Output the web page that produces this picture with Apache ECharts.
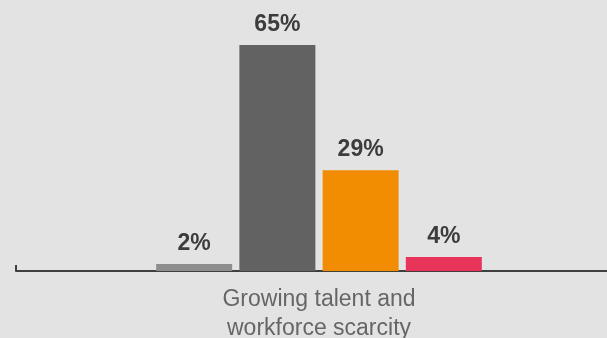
<!DOCTYPE html>
<html>
<head>
<meta charset="utf-8">
<script src="https://cdn.jsdelivr.net/npm/echarts@6/dist/echarts.min.js"></script>
<style>
  html, body { margin: 0; padding: 0; background: #e3e3e3; }
  #frame { width: 607px; height: 338px; overflow: hidden; position: relative; }
  /* the chart is a little wider than its frame so the axis runs off the right edge */
  #chart { width: 622px; height: 338px; position: absolute; left: 0; top: 0; }
</style>
</head>
<body>
<div id="frame"><div id="chart"></div></div>
<script>
// Single category with four response shares (percent)
const categories = ['Growing talent and\nworkforce scarcity'];
const seriesNames = ['A', 'B', 'C', 'D'];
const seriesValues = [[2], [65], [29], [4]];
const seriesColors = ['#8e8e8e', '#626262', '#f28c00', '#e8345a'];

const chart = echarts.init(document.getElementById('chart'));

const series = seriesNames.map((name, i) => ({
  name: name,
  type: 'bar',
  data: seriesValues[i],
  barWidth: 76,
  barGap: '9.5%',
  itemStyle: { color: seriesColors[i] },
  label: {
    show: true,
    position: 'top',
    distance: 9,
    formatter: '{c}%',
    fontFamily: 'Liberation Sans, Arial, sans-serif',
    fontWeight: 'bold',
    fontSize: 23,
    color: '#3c3c3c'
  },
  silent: true,
  animation: false
}));

chart.setOption({
  backgroundColor: '#e3e3e3',
  animation: false,
  grid: { left: 16, right: 0, top: 45, bottom: 67, outerBoundsMode: 'none' },
  xAxis: {
    type: 'category',
    data: categories,
    axisLine: { lineStyle: { color: '#3f3f3f', width: 2 } },
    axisTick: { show: true, inside: true, length: 6, lineStyle: { color: '#3f3f3f', width: 2 } },
    axisLabel: {
      margin: 14,
      fontFamily: 'Liberation Sans, Arial, sans-serif',
      fontSize: 23,
      lineHeight: 29,
      color: '#666666'
    }
  },
  yAxis: {
    type: 'value',
    min: 0,
    max: 65,
    show: false,
    splitLine: { show: false }
  },
  series: series
});
</script>
</body>
</html>
